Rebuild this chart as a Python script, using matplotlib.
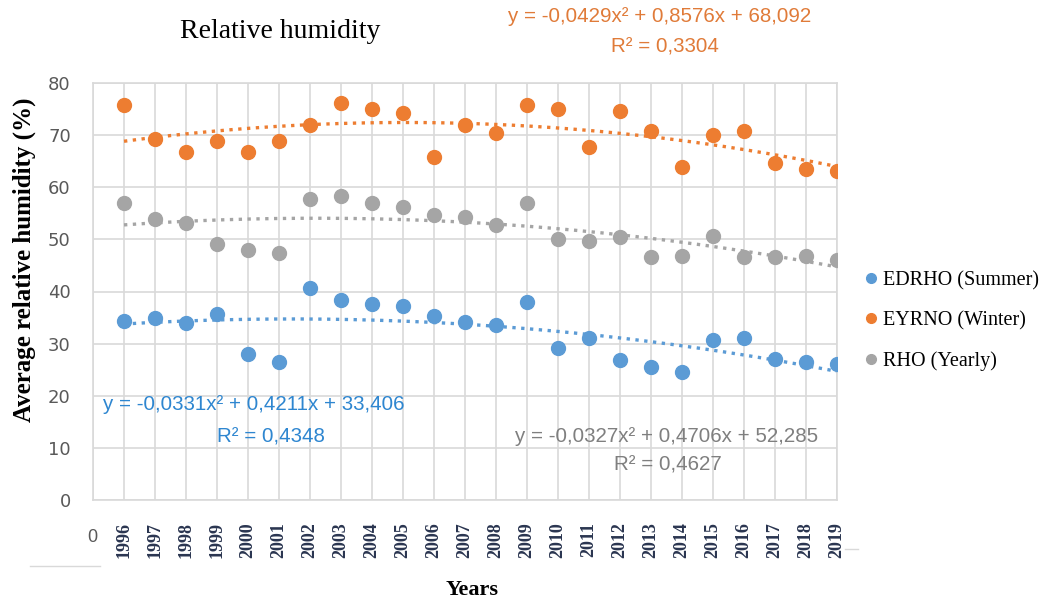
import numpy as np
import matplotlib
matplotlib.use("Agg")
import matplotlib.pyplot as plt

### donnees
years = [str(y) for y in range(1996, 2020)]

summer = [34.4, 34.9, 34.0, 35.7, 28.0, 26.5, 40.7, 38.4, 37.6, 37.2, 35.3, 34.2,
          33.6, 38.0, 29.2, 31.1, 26.9, 25.5, 24.6, 30.7, 31.1, 27.1, 26.5, 26.1]
winter = [75.8, 69.3, 66.8, 68.9, 66.8, 68.9, 72.0, 76.1, 75.0, 74.2, 65.8, 72.0,
          70.4, 75.8, 75.0, 67.8, 74.6, 70.8, 63.9, 70.0, 70.7, 64.7, 63.5, 63.1]
yearly = [57.0, 54.0, 53.2, 49.2, 48.0, 47.3, 57.7, 58.4, 57.0, 56.2, 54.6, 54.3,
          52.8, 56.9, 50.1, 49.6, 50.4, 46.6, 46.8, 50.7, 46.6, 46.6, 46.9, 46.1]

series_names = ["EDRHO (Summer)", "EYRNO (Winter)", "RHO (Yearly)"]
eq_lines = [("y = -0,0331x² + 0,4211x + 33,406", "R² = 0,4348"),
            ("y = -0,0429x² + 0,8576x + 68,092", "R² = 0,3304"),
            ("y = -0,0327x² + 0,4706x + 52,285", "R² = 0,4627")]

BLUE = "#5B9BD5"
ORANGE = "#ED7D31"
GRAY = "#A5A5A5"
SERIF = ["Liberation Serif", "DejaVu Serif"]
SANS = ["Liberation Sans", "DejaVu Sans"]

W, H = 1057, 605
fig = plt.figure(figsize=(W / 100, H / 100), dpi=100)
ax = fig.add_axes([93 / W, 1 - 500 / H, 744 / W, 417 / H])

x = np.arange(1, len(years) + 1)
xx = np.linspace(1, len(years), 200)

for vals, col, name in zip([summer, winter, yearly], [BLUE, ORANGE, GRAY], series_names):
    ax.plot(x, vals, "o", color=col, ms=10, label=name, zorder=3)
    c = np.polyfit(x, vals, 2)
    ax.plot(xx, np.polyval(c, xx), ":", color=col, lw=2.4, zorder=2)

ax.set_xlim(0, len(years))
ax.set_ylim(0, 80)
ax.set_yticks(np.arange(0, 81, 10))
ax.set_xticks(np.arange(0, len(years) + 1))
ax.set_xticklabels([""] + years, rotation=90, fontsize=13, color="#2A3550",
                   family=SERIF, weight="bold")
ax.tick_params(axis="x", length=0, pad=16)
ax.tick_params(axis="y", length=0, pad=16, labelsize=13, labelcolor="#595959")
ax.grid(True, color="#D9D9D9", lw=1.2)
ax.set_axisbelow(True)
for s in ax.spines.values():
    s.set_color("#D9D9D9")
    s.set_linewidth(1.2)

def px(xp, yp):
    return xp / W, 1 - yp / H

fig.text(*px(92, 537), "0", fontsize=13, color="#595959", family=SANS,
         ha="center", va="center")
# petits traits gris sous l'axe
fig.add_artist(plt.Line2D([30 / W, 100 / W], [1 - 566 / H] * 2, color="#D9D9D9", lw=1))
fig.add_artist(plt.Line2D([845 / W, 858 / W], [1 - 549 / H] * 2, color="#D9D9D9", lw=1))

fig.text(*px(280, 32), "Relative humidity", fontsize=20, family=SERIF,
         ha="center", va="center")
fig.text(*px(24, 260), "Average relative humidity (%)", fontsize=18,
         family=SERIF, weight="bold", rotation=90, ha="center", va="center")
fig.text(*px(472, 590), "Years", fontsize=16, family=SERIF,
         weight="bold", ha="center", va="center")

eq_pos = [((254, 405), (271, 437)), ((660, 17), (665, 47)), ((667, 437), (668, 465))]
eq_cols = ["#2E86D0", "#E07B39", "#7F7F7F"]
for (l1, l2), (p1, p2), col in zip(eq_lines, eq_pos, eq_cols):
    fig.text(*px(*p1), l1, fontsize=14.8, color=col, family=SANS, ha="center", va="center")
    fig.text(*px(*p2), l2, fontsize=14.8, color=col, family=SANS, ha="center", va="center")

fig.legend(loc="center left", bbox_to_anchor=(843 / W, 1 - 321 / H),
           frameon=False, prop={"family": SERIF, "size": 14.5}, handletextpad=0.1,
           markerscale=0.7, labelspacing=1.05, handlelength=1.0)

fig.savefig("out.png", dpi=100)
